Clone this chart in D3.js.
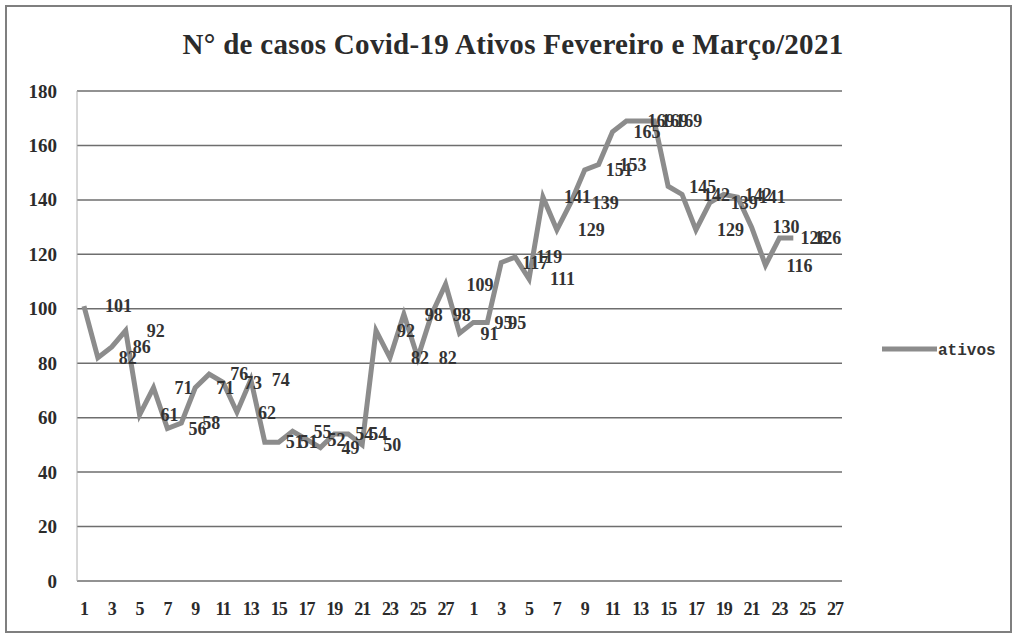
<!DOCTYPE html>
<html>
<head>
<meta charset="utf-8">
<script src="https://cdn.jsdelivr.net/npm/d3@7"></script>
<style>
  body { margin: 0; background: #fff; }
</style>
</head>
<body>
<div id="chart"></div>
<script>
// categories: days of February (1-28) and March (1-27)
const days = [1, 2, 3, 4, 5, 6, 7, 8, 9, 10, 11, 12, 13, 14, 15, 16, 17, 18, 19, 20, 21, 22, 23, 24, 25, 26, 27, 28,
              1, 2, 3, 4, 5, 6, 7, 8, 9, 10, 11, 12, 13, 14, 15, 16, 17, 18, 19, 20, 21, 22, 23, 24, 25, 26, 27];

// active cases (no data after March 24)
const ativos = [101, 82, 86, 92, 61, 71, 56, 58, 71, 76, 73, 62, 74, 51, 51, 55, 52, 49, 54, 54, 50,
                92, 82, 98, 82, 98, 109, 91, 95,
                95, 117, 119, 111, 141, 129, 139, 151, 153, 165, 169, 169, 169, 145, 142, 129, 139, 142, 141,
                130, 116, 126, 126, null, null, null];

const yTicks = [0, 20, 40, 60, 80, 100, 120, 140, 160, 180];

const chartTitle = "N° de casos Covid-19  Ativos Fevereiro e Março/2021";
const seriesName = "ativos";

var W = 1017, H = 638;
var margin = {top: 91, right: 175, bottom: 57, left: 77},
    width = W - margin.left - margin.right,
    height = H - margin.top - margin.bottom;

var root = d3.select("#chart")
  .append("svg")
  .attr("width", W)
  .attr("height", H);

// outer frame
root.append("rect")
  .attr("x", 6).attr("y", 6)
  .attr("width", W - 12).attr("height", H - 12)
  .attr("fill", "#fff")
  .attr("stroke", "#7f7f7f")
  .attr("stroke-width", 2);

root.append("text")
  .attr("x", 513)
  .attr("y", 54)
  .attr("text-anchor", "middle")
  .style("font-family", "'Liberation Serif', serif")
  .style("font-size", "29px")
  .style("font-weight", "bold")
  .style("letter-spacing", "0.3px")
  .style("fill", "#2b2b2b")
  .text(chartTitle);

var svg = root.append("g")
  .attr("transform", "translate(" + margin.left + "," + margin.top + ")");

var x = d3.scaleBand()
  .domain(d3.range(days.length))
  .range([0, width])
  .padding(0);

var y = d3.scaleLinear()
  .domain([0, 180])
  .range([height, 0]);

// gridlines
svg.append("g")
  .selectAll("line")
  .data(yTicks)
  .enter()
  .append("line")
  .attr("x1", 0)
  .attr("x2", width)
  .attr("y1", d => y(d))
  .attr("y2", d => y(d))
  .attr("stroke", "#6e6e6e")
  .attr("stroke-width", 1.5);

// left edge of plot area
svg.append("line")
  .attr("x1", 0).attr("x2", 0)
  .attr("y1", 0).attr("y2", height)
  .attr("stroke", "#b0b0b0")
  .attr("stroke-width", 1);

// Y axis
var yAxis = svg.append("g")
  .call(d3.axisLeft(y).tickValues(yTicks).tickSize(0).tickPadding(20));
yAxis.select(".domain").remove();
yAxis.selectAll("text")
  .style("font-family", "'Liberation Serif', serif")
  .style("font-size", "19px")
  .style("font-weight", "bold")
  .style("fill", "#2b2b2b");

// X axis
var xAxis = svg.append("g")
  .attr("transform", "translate(0," + height + ")")
  .call(d3.axisBottom(x)
    .tickValues(d3.range(days.length).filter(i => i % 2 === 0))
    .tickFormat(i => days[i])
    .tickSize(0)
    .tickPadding(21));
xAxis.select(".domain").remove();
xAxis.selectAll("text")
  .style("font-family", "'Liberation Serif', serif")
  .style("font-size", "18px")
  .style("font-weight", "bold")
  .style("letter-spacing", "-1px")
  .style("fill", "#2b2b2b");

var cx = i => x(i) + x.bandwidth() / 2;

// line
var line = d3.line()
  .defined(d => d != null)
  .x((d, i) => cx(i))
  .y(d => y(d));

svg.append("path")
  .datum(ativos)
  .attr("fill", "none")
  .attr("stroke", "#8c8c8c")
  .attr("stroke-width", 5)
  .attr("stroke-linejoin", "miter")
  .attr("d", line);

// data labels (right of each point)
svg.append("g")
  .selectAll("text")
  .data(ativos.map((v, i) => ({v: v, i: i})).filter(d => d.v != null))
  .enter()
  .append("text")
  .attr("x", d => cx(d.i) + 21)
  .attr("y", d => y(d.v))
  .attr("dy", "0.35em")
  .style("font-family", "'Liberation Serif', serif")
  .style("font-size", "18px")
  .style("font-weight", "bold")
  .style("fill", "#333")
  .text(d => d.v);

// legend
var legend = root.append("g")
  .attr("transform", "translate(882,349)");
legend.append("line")
  .attr("x1", 0).attr("x2", 55)
  .attr("y1", 0).attr("y2", 0)
  .attr("stroke", "#8c8c8c")
  .attr("stroke-width", 5);
legend.append("text")
  .attr("x", 56)
  .attr("y", 0)
  .attr("dy", "0.35em")
  .style("font-family", "'Liberation Mono', monospace")
  .style("font-size", "16px")
  .style("font-weight", "bold")
  .style("fill", "#333")
  .text(seriesName);
</script>
</body>
</html>
